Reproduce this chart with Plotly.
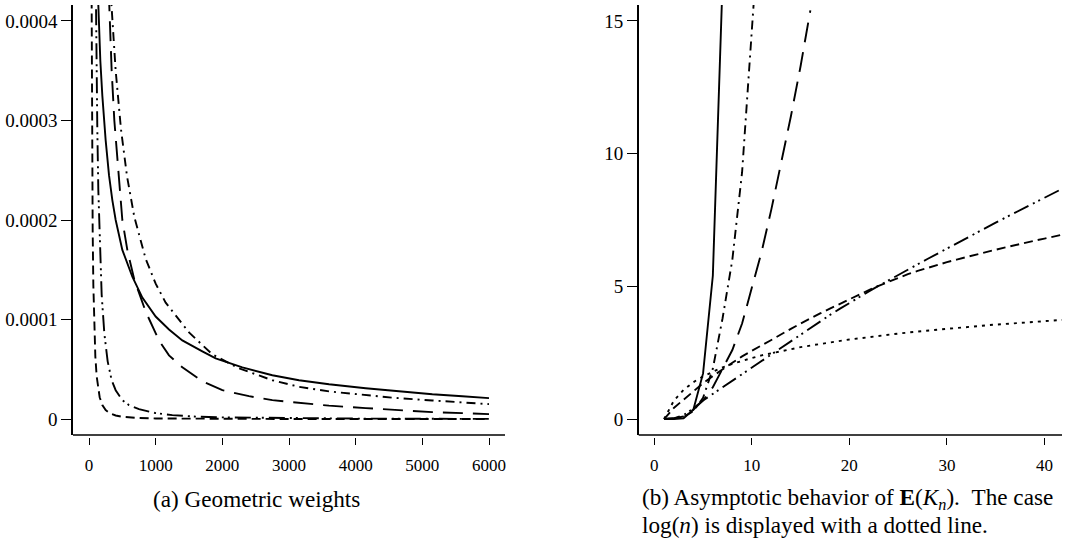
import plotly.graph_objects as go

W, H = 1065, 546

# ---------------- Panel (a): geometric weights ----------------
solid_a_x = [115, 140, 170, 200, 250, 300, 350, 400, 500, 650, 800, 1000, 1200, 1400, 1700, 1900, 2300, 2750, 3150, 3600, 4150, 4600, 5150, 5600, 6000]
solid_a_y = [5.0e-4, 4.16e-4, 3.6e-4, 3.25e-4, 2.8e-4, 2.45e-4, 2.2e-4, 2.0e-4, 1.70e-4, 1.43e-4, 1.22e-4, 1.03e-4, 0.90e-4, 0.79e-4, 0.68e-4, 0.61e-4, 0.52e-4, 0.44e-4, 0.39e-4, 0.35e-4, 0.31e-4, 0.28e-4, 0.25e-4, 0.23e-4, 0.21e-4]

longdash_a_x = [280, 303, 340, 380, 440, 500, 580, 680, 850, 1050, 1200, 1400, 1700, 2000, 2400, 2750, 3050, 3600, 4150, 4600, 5150, 5600, 6000]
longdash_a_y = [4.6e-4, 4.16e-4, 3.5e-4, 3.0e-4, 2.45e-4, 2.0e-4, 1.68e-4, 1.40e-4, 1.08e-4, 0.79e-4, 0.64e-4, 0.52e-4, 0.38e-4, 0.29e-4, 0.23e-4, 0.19e-4, 0.17e-4, 0.135e-4, 0.11e-4, 0.09e-4, 0.07e-4, 0.06e-4, 0.05e-4]

dashdot_a_x = [310, 337, 400, 480, 570, 680, 850, 1000, 1150, 1500, 1850, 2250, 2750, 3150, 3600, 4150, 4600, 5150, 5600, 6000]
dashdot_a_y = [4.52e-4, 4.16e-4, 3.5e-4, 2.91e-4, 2.44e-4, 2.03e-4, 1.61e-4, 1.36e-4, 1.17e-4, 0.87e-4, 0.65e-4, 0.51e-4, 0.39e-4, 0.324e-4, 0.278e-4, 0.239e-4, 0.212e-4, 0.187e-4, 0.168e-4, 0.15e-4]

dashdotdot_a_x = [95, 102, 110, 125, 140, 160, 190, 230, 280, 340, 400, 500, 600, 750, 1000, 1250, 1600, 2000, 3000, 4000, 5000, 6000]
dashdotdot_a_y = [4.8e-4, 4.16e-4, 3.6e-4, 2.9e-4, 2.3e-4, 1.78e-4, 1.25e-4, 0.86e-4, 0.58e-4, 0.39e-4, 0.29e-4, 0.19e-4, 0.14e-4, 0.10e-4, 0.06e-4, 0.04e-4, 0.025e-4, 0.017e-4, 0.008e-4, 0.005e-4, 0.003e-4, 0.002e-4]

dashed_a_x = [33, 37, 45, 55, 65, 80, 95, 115, 135, 160, 200, 250, 320, 400, 500, 700, 1000, 1500, 2000, 3000, 4000, 5000, 6000]
dashed_a_y = [5.2e-4, 4.16e-4, 2.8e-4, 1.9e-4, 1.35e-4, 0.89e-4, 0.63e-4, 0.43e-4, 0.31e-4, 0.22e-4, 0.14e-4, 0.09e-4, 0.056e-4, 0.036e-4, 0.023e-4, 0.012e-4, 0.006e-4, 0.003e-4, 0.0015e-4, 0.0007e-4, 0.0004e-4, 0.0003e-4, 0.0002e-4]

a_xticks = [0, 1000, 2000, 3000, 4000, 5000, 6000]
a_yticks = [0, 0.0001, 0.0002, 0.0003, 0.0004]
a_yticklabels = ["0", "0.0001", "0.0002", "0.0003", "0.0004"]

# ---------------- Panel (b): E(K_n) ----------------
n_solid = [1, 2, 3, 4, 5, 6, 7]
ek_solid = [0, 0.0, 0.03, 0.35, 1.72, 5.4, 16.5]

n_dashdot = [1, 2, 3, 4, 5, 6, 7, 8, 9, 10, 11]
ek_dashdot = [0, 0.02, 0.08, 0.3, 0.8, 1.9, 3.8, 6.0, 9.3, 14.4, 20.0]

n_longdash = [1, 2, 3, 4, 5, 6, 7, 8, 9, 10, 11, 12, 13, 14, 15, 16]
ek_longdash = [0, 0.02, 0.1, 0.35, 0.7, 1.2, 1.9, 2.6, 3.6, 4.9, 6.3, 7.9, 9.6, 11.4, 13.3, 15.4]

n_long = list(range(1, 43))
ek_dashdotdot = [0, 0.03, 0.15, 0.4, 0.7, 0.95, 1.2, 1.45, 1.7, 1.95, 2.2, 2.45, 2.7, 2.95, 3.2, 3.45,
                 3.68, 3.92, 4.15, 4.38, 4.6, 4.81, 5.02, 5.23, 5.43, 5.63, 5.83, 6.03, 6.23, 6.43,
                 6.63, 6.83, 7.02, 7.21, 7.4, 7.59, 7.78, 7.97, 8.16, 8.35, 8.53, 8.71]
ek_dashed = [0, 0.42, 0.73, 1.05, 1.35, 1.62, 1.88, 2.12, 2.36, 2.58, 2.78, 2.98, 3.2, 3.4, 3.6, 3.8,
             3.98, 4.16, 4.34, 4.52, 4.7, 4.86, 5.02, 5.17, 5.33, 5.46, 5.58, 5.70, 5.81, 5.91,
             6.01, 6.11, 6.20, 6.29, 6.38, 6.47, 6.56, 6.64, 6.72, 6.80, 6.88, 6.96]
ek_dotted = [0, 0.69, 1.10, 1.39, 1.61, 1.79, 1.95, 2.08, 2.20, 2.30, 2.40, 2.48, 2.56, 2.64, 2.71,
             2.77, 2.83, 2.89, 2.94, 3.00, 3.04, 3.09, 3.14, 3.18, 3.22, 3.26, 3.30, 3.33, 3.37,
             3.40, 3.43, 3.47, 3.50, 3.53, 3.56, 3.58, 3.61, 3.64, 3.66, 3.69, 3.71, 3.74]

b_xticks = [0, 10, 20, 30, 40]
b_yticks = [0, 5, 10, 15]

caption_a = "(a) Geometric weights"
caption_b1 = "(b) Asymptotic behavior of <b>E</b>(<i>K</i><sub><i>n</i></sub>).&nbsp;&nbsp;The case"
caption_b2 = "log(<i>n</i>) is displayed with a dotted line."

# ---------------- styles ----------------
FONT = "Liberation Serif"
LW = 1.9
D_SOLID = "solid"
D_DASH = "9px,5px"
D_DOT = "3px,5px"
D_LONG = "20px,10px"
D_DASHDOT = "9px,5px,2px,5px"
D_DASHDOTDOT = "16px,5px,2px,4px,2px,5px"

fig = go.Figure()

def add(x, y, dash, ax):
    fig.add_trace(go.Scatter(
        x=x, y=y, mode="lines", xaxis=ax[0], yaxis=ax[1],
        line=dict(color="black", width=LW, dash=dash),
        showlegend=False, hoverinfo="skip"))

A = ("x", "y")
B = ("x2", "y2")
add(dashed_a_x, dashed_a_y, D_DASH, A)
add(dashdotdot_a_x, dashdotdot_a_y, D_DASHDOTDOT, A)
add(solid_a_x, solid_a_y, D_SOLID, A)
add(longdash_a_x, longdash_a_y, D_LONG, A)
add(dashdot_a_x, dashdot_a_y, D_DASHDOT, A)

add(n_solid, ek_solid, D_SOLID, B)
add(n_dashdot, ek_dashdot, D_DASHDOT, B)
add(n_longdash, ek_longdash, D_LONG, B)
add(n_long, ek_dashdotdot, D_DASHDOTDOT, B)
add(n_long, ek_dashed, D_DASH, B)
add(n_long, ek_dotted, D_DOT, B)

def fx(px):
    return px / W

def fy(py):
    return 1 - py / H

xtickfont = dict(family=FONT, size=17, color="black")
ytickfont = dict(family=FONT, size=19, color="black")
common_x = dict(showgrid=False, zeroline=False, showline=False, ticks="outside",
                ticklen=7, tickwidth=1.2, tickcolor="black", tickfont=xtickfont,
                anchor="free", position=fy(437), ticklabelstandoff=6)
common_y = dict(showgrid=False, zeroline=False, showline=True, linecolor="black",
                linewidth=1.5, ticks="outside", ticklen=10, tickwidth=1.2,
                tickcolor="black", tickfont=ytickfont, ticklabelstandoff=0)

capfont = dict(family=FONT, size=23.2, color="black")

fig.update_layout(
    width=W, height=H, margin=dict(l=0, r=0, t=0, b=0),
    paper_bgcolor="white", plot_bgcolor="white",
    xaxis=dict(domain=[fx(73), fx(505)], range=[-240, 6240],
               tickvals=a_xticks, ticktext=[str(v) for v in a_xticks], **common_x),
    yaxis=dict(domain=[fy(435), fy(5)], range=[-0.000016, 0.000416], anchor="x",
               tickvals=a_yticks, ticktext=a_yticklabels, **common_y),
    xaxis2=dict(domain=[fx(638.7), fx(1062)], range=[-1.6, 41.8],
                tickvals=b_xticks, ticktext=[str(v) for v in b_xticks], **common_x),
    yaxis2=dict(domain=[fy(435), fy(5)], range=[-0.6, 15.6], anchor="x2",
                tickvals=b_yticks, ticktext=[str(v) for v in b_yticks], **common_y),
    shapes=[
        dict(type="line", xref="x domain", yref="y domain", x0=0, x1=1, y0=0, y1=0,
             line=dict(color="black", width=1.5)),
        dict(type="line", xref="x2 domain", yref="y2 domain", x0=0, x1=1, y0=0, y1=0,
             line=dict(color="black", width=1.5)),
    ],
    annotations=[
        dict(text=caption_a, xref="paper", yref="paper", x=fx(256), y=fy(499),
             xanchor="center", yanchor="middle", showarrow=False, font=capfont),
        dict(text=caption_b1, xref="paper", yref="paper", x=fx(640), y=fy(499),
             xanchor="left", yanchor="middle", showarrow=False, font=capfont),
        dict(text=caption_b2, xref="paper", yref="paper", x=fx(640), y=fy(525),
             xanchor="left", yanchor="middle", showarrow=False, font=capfont),
    ],
)

fig.write_html(
    "out.html",
    config={"displayModeBar": False},
    post_script="document.body.style.margin='0';document.body.style.overflow='hidden';",
)
